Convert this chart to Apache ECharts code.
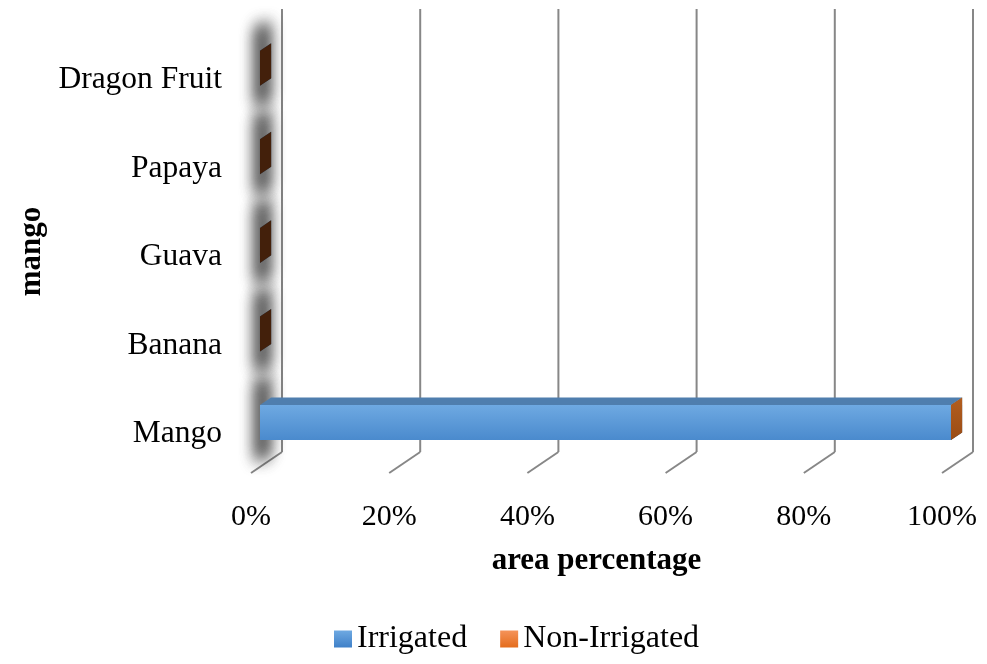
<!DOCTYPE html>
<html>
<head>
<meta charset="utf-8">
<script src="https://cdn.jsdelivr.net/npm/echarts@6/dist/echarts.min.js"></script>
<style>html,body{margin:0;padding:0;background:#fff;}#c{width:987px;height:664px;}</style>
</head>
<body>
<div id="c"></div>
<script>
var categories = ['Mango', 'Banana', 'Guava', 'Papaya', 'Dragon Fruit'];
var irrigated = [100, 0, 0, 0, 0];
var nonIrrigated = [0, 0, 0, 0, 0];
var tickValues = [0, 20, 40, 60, 80, 100];

// 3D projection parameters (pixels)
var DX = 31, DY = -21;        // front plane -> back plane
var F1 = 0.29, F2 = 0.65;     // bar front/back depth fractions
var HALF = 17.5;              // half bar height
var OFF = 3000;               // offscreen shift used to cast a blurred shadow only

function pct(i, arr) {
  var t = irrigated[i] + nonIrrigated[i];
  return t > 0 ? arr[i] / t * 100 : 0;
}
var irrData = [], nonData = [], shadowData = [];
for (var i = 0; i < categories.length; i++) {
  var a = pct(i, irrigated), b = pct(i, nonIrrigated);
  irrData.push([0, a, i]);
  nonData.push([a, a + b, i]);
  shadowData.push([0, 0, i]);
}

function segRender(frontCol, topCol, sideCol, drawFront) {
  return function (params, api) {
    var s = api.value(0), e = api.value(1), c = api.value(2);
    var p0 = api.coord([s, c]), p1 = api.coord([e, c]);
    var x0 = p0[0] + DX * F1, x1 = p1[0] + DX * F1;
    var yc = p0[1] + DY * F1;
    var yT = yc - HALF, yB = yc + HALF;
    var dx = DX * (F2 - F1), dy = DY * (F2 - F1);
    var children = [];
    if (drawFront && x1 - x0 > 0.5) {
      children.push({ type: 'polygon', shape: { points: [[x0, yT], [x0 + dx, yT + dy], [x1 + dx, yT + dy], [x1, yT]] }, style: { fill: topCol } });
      children.push({ type: 'rect', shape: { x: x0, y: yT, width: x1 - x0, height: yB - yT }, style: { fill: frontCol } });
    }
    var sc = sideCol;
    if (typeof sideCol === 'function') sc = sideCol(e);
    children.push({ type: 'polygon', shape: { points: [[x1, yT], [x1 + dx, yT + dy], [x1 + dx, yB + dy], [x1, yB]] }, style: { fill: sc } });
    return { type: 'group', children: children };
  };
}

var blueFront = new echarts.graphic.LinearGradient(0, 0, 0, 1, [{ offset: 0, color: '#6ea9e2' }, { offset: 1, color: '#4a8acd' }]);
var blueTop = '#4f7eae';
var orangeSide = new echarts.graphic.LinearGradient(0, 0, 0, 1, [{ offset: 0, color: '#b35e1f' }, { offset: 1, color: '#9a4c15' }]);

var chart = echarts.init(document.getElementById('c'));
chart.setOption({
  animation: false,
  grid: { left: 251, right: 45, top: 30, bottom: 191 },
  legend: {
    left: 329, top: 618,
    itemWidth: 18, itemHeight: 17, itemGap: 33,
    icon: 'rect',
    textStyle: { fontFamily: 'Liberation Serif', fontSize: 32, color: '#000', lineHeight: 32 },
    data: [
      { name: 'Irrigated', itemStyle: { color: new echarts.graphic.LinearGradient(0, 0, 0, 1, [{ offset: 0, color: '#6ea9e2' }, { offset: 1, color: '#3f80c8' }]) } },
      { name: 'Non-Irrigated', itemStyle: { color: new echarts.graphic.LinearGradient(0, 0, 0, 1, [{ offset: 0, color: '#f5935a' }, { offset: 1, color: '#e46c1c' }]) } }
    ]
  },
  xAxis: {
    type: 'value', min: 0, max: 100, interval: 20,
    axisLine: { show: false }, axisTick: { show: false }, splitLine: { show: false },
    axisLabel: { formatter: '{value}%', fontFamily: 'Liberation Serif', fontSize: 30, color: '#000', margin: 29 },
    name: 'area percentage', nameLocation: 'middle', nameGap: 72,
    nameTextStyle: { fontFamily: 'Liberation Serif', fontSize: 31, fontWeight: 'bold', color: '#000' }
  },
  yAxis: {
    type: 'category', data: categories,
    axisLine: { show: false }, axisTick: { show: false }, splitLine: { show: false },
    axisLabel: {
      margin: 29,
      formatter: '{l|{value}}',
      rich: { l: { fontFamily: 'Liberation Serif', fontSize: 31.5, color: '#000', padding: [11, 0, 0, 0] } }
    },
    name: 'mango', nameLocation: 'middle', nameGap: 202,
    nameTextStyle: { fontFamily: 'Liberation Serif', fontSize: 31, fontWeight: 'bold', color: '#000' }
  },
  series: [
    {
      type: 'custom', name: 'gridlines', silent: true, z: 1,
      data: tickValues.map(function (v) { return [v]; }),
      renderItem: function (params, api) {
        var cs = params.coordSys;
        var x = api.coord([api.value(0), 0])[0];
        var yb = cs.y + cs.height, yt = cs.y;
        var st = { stroke: '#878787', lineWidth: 2, fill: null };
        return { type: 'group', children: [
          { type: 'line', shape: { x1: x + DX, y1: yt + DY, x2: x + DX, y2: yb + DY }, style: st },
          { type: 'line', shape: { x1: x, y1: yb, x2: x + DX, y2: yb + DY }, style: st }
        ] };
      },
      encode: { x: 0 }
    },
    {
      type: 'custom', name: 'shadow', silent: true, z: 2,
      data: shadowData,
      renderItem: function (params, api) {
        var c = api.value(2);
        var p = api.coord([0, c]);
        var x = p[0] + DX * F1 - OFF - 3, yc = p[1] + DY * F1;
        var dx = DX * (F2 - F1), dy = DY * (F2 - F1);
        var ext = 22;
        var pts = [[x, yc - HALF - ext], [x + dx, yc - HALF - ext + dy], [x + dx, yc + HALF + ext + dy], [x, yc + HALF + ext]];
        var mk = function () {
          return { type: 'polygon', shape: { points: pts },
            style: { fill: '#000', shadowBlur: 16, shadowOffsetX: OFF, shadowColor: 'rgba(40,40,40,0.8)' } };
        };
        return { type: 'group', children: [mk(), mk()] };
      },
      encode: { x: [0, 1], y: 2 }
    },
    {
      type: 'custom', name: 'Irrigated', z: 3, color: '#5b9bd5',
      data: irrData,
      renderItem: segRender(blueFront, blueTop, '#27476b', true),
      encode: { x: [0, 1], y: 2 }
    },
    {
      type: 'custom', name: 'Non-Irrigated', z: 4, color: '#ed7d31',
      data: nonData,
      renderItem: segRender('#ed7d31', '#b85e22', function (end) { return end > 0 ? orangeSide : '#43200b'; }, true),
      encode: { x: [0, 1], y: 2 }
    }
  ]
});
</script>
</body>
</html>
